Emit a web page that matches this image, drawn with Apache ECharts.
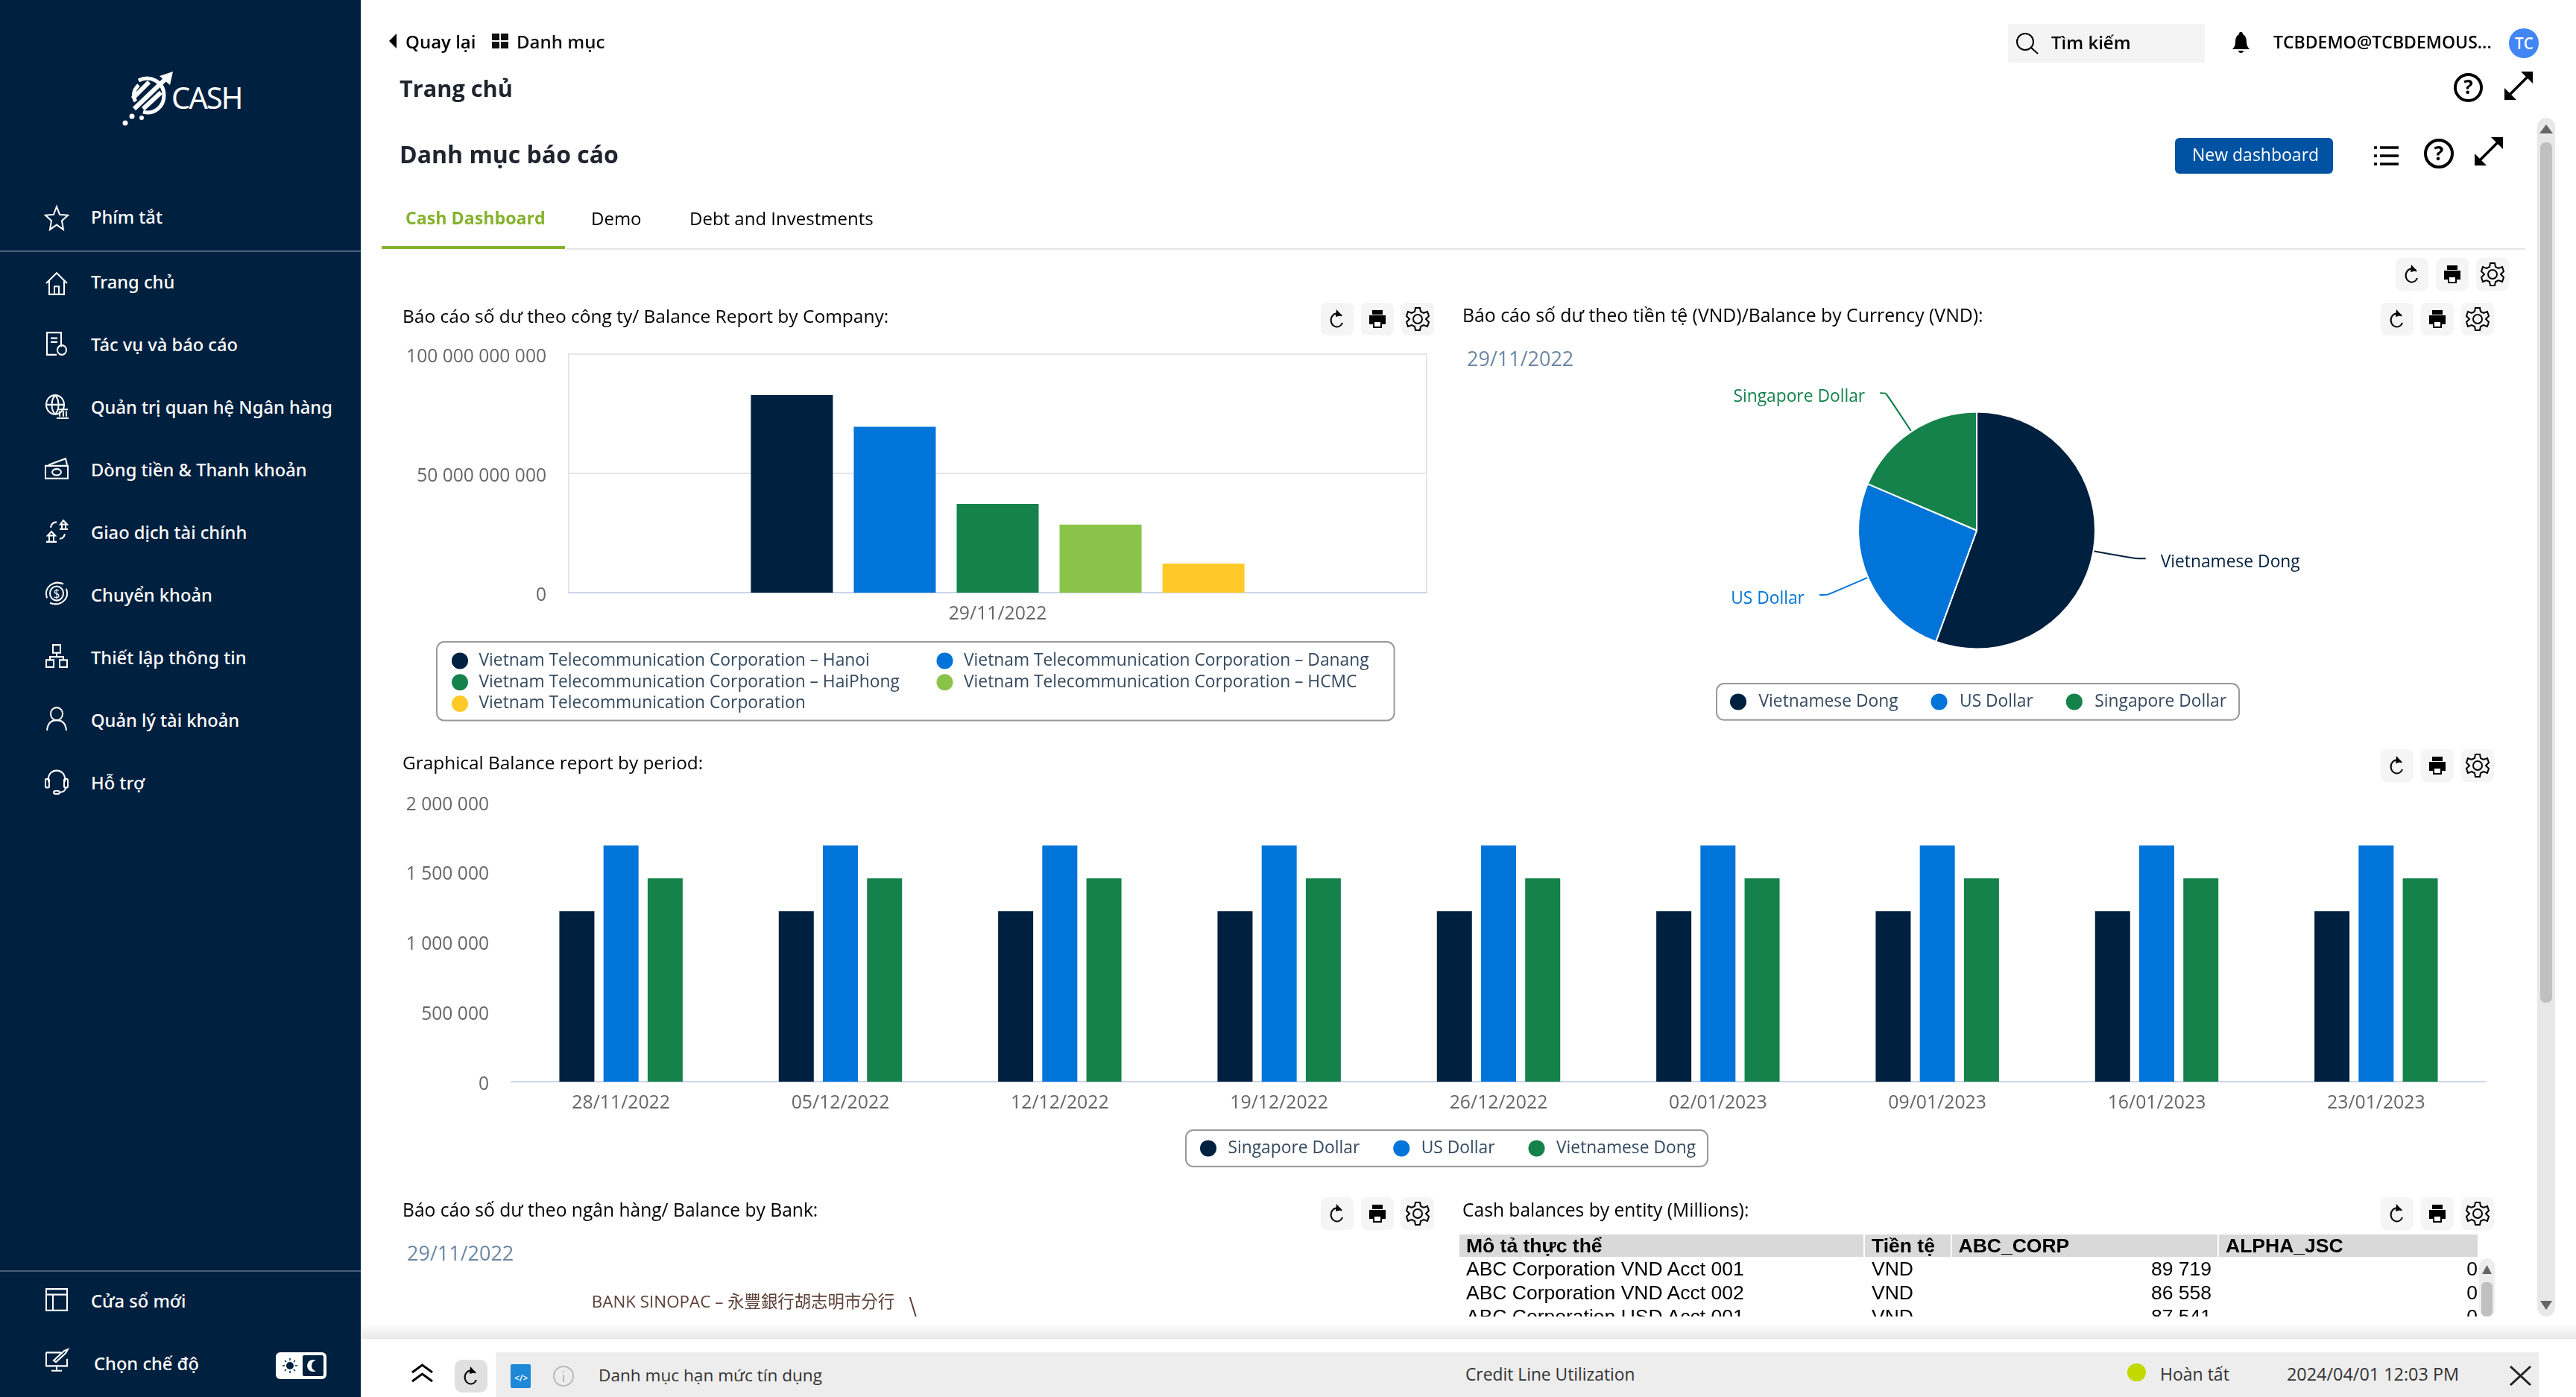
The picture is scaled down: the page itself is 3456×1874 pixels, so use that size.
<!DOCTYPE html>
<html>
<head>
<meta charset="utf-8">
<script src="https://cdn.jsdelivr.net/npm/echarts@6/dist/echarts.min.js"></script>
<style>
html,body{margin:0;padding:0;width:3456px;height:1874px;overflow:hidden;background:#fff;font-family:"Open Sans","Noto Sans",sans-serif;}
#main{position:absolute;left:0;top:0;width:3456px;height:1874px;}
#ui{position:absolute;left:0;top:0;width:3456px;height:1874px;pointer-events:none;}
.t{position:absolute;white-space:nowrap;transform:translateY(-50%);color:#000;}
.b{position:absolute;}
svg{position:absolute;overflow:visible;fill:none;}
#cover{position:absolute;left:484px;top:1766px;width:2972px;height:108px;background:linear-gradient(#fff 0,#fff 8px,#e9e9e9 30px,#fff 30px);}
table{position:absolute;left:1958px;top:1656px;width:1366px;table-layout:fixed;border-collapse:separate;border-spacing:0;font-family:"Liberation Sans";font-size:26.5px;line-height:32px;color:#000;}
td{padding:0;white-space:nowrap;overflow:hidden;}
</style>
</head>
<body>
<div id="main"></div>
<div id="ui"></div>
<script>
// chart data
var companyDates = ['29/11/2022'];
var companyNames = [
  'Vietnam Telecommunication Corporation – Hanoi',
  'Vietnam Telecommunication Corporation – Danang',
  'Vietnam Telecommunication Corporation – HaiPhong',
  'Vietnam Telecommunication Corporation – HCMC',
  'Vietnam Telecommunication Corporation'
];
var companyValues = [82800000000, 69500000000, 37200000000, 28500000000, 12200000000];

var currencyNames = ['Vietnamese Dong', 'US Dollar', 'Singapore Dollar'];
var currencyValues = [127700000000, 59300000000, 42700000000];

var periodDates = ['28/11/2022', '05/12/2022', '12/12/2022', '19/12/2022', '26/12/2022', '02/01/2023', '09/01/2023', '16/01/2023', '23/01/2023'];
var periodSgd = [1220000, 1220000, 1220000, 1220000, 1220000, 1220000, 1220000, 1220000, 1220000];
var periodUsd = [1690000, 1690000, 1690000, 1690000, 1690000, 1690000, 1690000, 1690000, 1690000];
var periodVnd = [1455000, 1455000, 1455000, 1455000, 1455000, 1455000, 1455000, 1455000, 1455000];

var bankNames = ['BANK SINOPAC – 永豐銀行胡志明市分行', ''];
var bankValues = [12, 88];

var tableHead = ['Mô tả thực thể', 'Tiền tệ', 'ABC_CORP', 'ALPHA_JSC'];
var tableNames = ['ABC Corporation VND Acct 001', 'ABC Corporation VND Acct 002', 'ABC Corporation USD Acct 001'];
var tableCcy = ['VND', 'VND', 'VND'];
var tableAbc = ['89 719', '86 558', '87 541'];
var tableAlpha = ['0', '0', '0'];

var NAVY = '#00203f', BLUE = '#0074d9', GREEN = '#15824b', LIME = '#8bc34a', YELLOW = '#ffca28';
var FONT = '"Open Sans","Noto Sans CJK TC",sans-serif';

function spaced(v) {
  return String(v).replace(/\B(?=(\d{3})+(?!\d))/g, ' ');
}
function yAxis(i, max, step) {
  return {
    type: 'value', gridIndex: i, min: 0, max: max, interval: step,
    axisLine: {show: false}, axisTick: {show: false},
    splitLine: {show: i == 0, lineStyle: {color: '#e6e6e6', width: 2}},
    axisLabel: {
      margin: 30,
      formatter: function (v) { return '{n|' + spaced(v) + '}'; },
      rich: {n: {color: '#666', fontSize: 24.6, fontFamily: FONT, padding: [7, 0, 0, 0]}}
    }
  };
}
function xAxis(i, data) {
  return {
    type: 'category', gridIndex: i, data: data,
    axisLine: {lineStyle: {color: '#ccd6eb', width: 2}}, axisTick: {show: false},
    axisLabel: {color: '#666', fontSize: 24.8, fontFamily: FONT, margin: 17, interval: 0}
  };
}
function legendBase(o) {
  var base = {
    icon: 'circle', itemHeight: 22, itemWidth: 43, selectedMode: false,
    borderColor: '#999', borderWidth: 2, borderRadius: 10,
    textStyle: {color: '#34495e', fontSize: 22.8, fontFamily: FONT, lineHeight: 22}
  };
  return Object.assign(base, o);
}

var chart = echarts.init(document.getElementById('main'), null, {renderer: 'canvas'});

var series = [];
companyNames.forEach(function (name, i) {
  series.push({
    name: name, type: 'bar', xAxisIndex: 0, yAxisIndex: 0, data: [companyValues[i]],
    barWidth: 110, barGap: '25.5%',
    itemStyle: {color: [NAVY, BLUE, GREEN, LIME, YELLOW][i]}
  });
});
[periodSgd, periodUsd, periodVnd].forEach(function (vals, i) {
  series.push({
    name: ['Singapore Dollar', 'US Dollar', 'Vietnamese Dong'][i], type: 'bar', xAxisIndex: 1, yAxisIndex: 1, data: vals,
    barWidth: 47, barGap: '26%',
    itemStyle: {color: [NAVY, BLUE, GREEN][i]}
  });
});

var pieLines = [[57, 14], [59, 11], [62, 8]];
series.push({
  type: 'pie', center: [2652, 711.5], radius: 159, startAngle: 90, avoidLabelOverlap: false,
  itemStyle: {borderColor: '#fff', borderWidth: 2},
  label: {distanceToLabelLine: 20, formatter: '{t|{b}}'},
  data: currencyNames.map(function (name, i) {
    var col = [NAVY, BLUE, GREEN][i];
    return {
      name: name, value: currencyValues[i], itemStyle: {color: col},
      label: {rich: {t: {color: col, fontSize: 22.8, fontFamily: FONT, padding: [11, 0, 0, 0]}}},
      labelLine: {length: pieLines[i][0], length2: pieLines[i][1], smooth: 0.2, lineStyle: {color: col, width: 2}}
    };
  })
});
series.push({
  type: 'pie', center: [1288, 1960], radius: 159, startAngle: 128.6, avoidLabelOverlap: false, silent: true,
  label: {
    distanceToLabelLine: 20, formatter: '{t|{b}}',
    rich: {t: {fontSize: 22.4, fontFamily: FONT, color: '#5d4037', padding: [13, 0, 0, 0]}}
  },
  data: bankNames.map(function (name, i) {
    return {
      name: name, value: bankValues[i],
      itemStyle: {color: ['#5d4037', NAVY][i]},
      label: {show: i == 0},
      labelLine: {show: i == 0, length: 70, length2: 1, lineStyle: {color: '#5d4037', width: 2}}
    };
  })
});

var option = {
  backgroundColor: '#fff',
  animation: false,
  grid: [
    {left: 763, top: 475, width: 1151, height: 320, show: true, borderColor: '#e6e6e6', borderWidth: 2},
    {left: 686, top: 1076, width: 2649, height: 375, show: false}
  ],
  xAxis: [xAxis(0, companyDates), xAxis(1, periodDates)],
  yAxis: [yAxis(0, 100000000000, 50000000000), yAxis(1, 2000000, 500000)],
  legend: [
    legendBase({
      orient: 'vertical', left: 586, top: 861, height: 104, itemGap: 6, itemWidth: 41,
      padding: [14, 34, 11, 20],
      data: [
        {name: companyNames[0], textStyle: {width: 608}},
        {name: companyNames[2], textStyle: {width: 608}},
        {name: companyNames[4], textStyle: {width: 608}},
        companyNames[1], companyNames[3]
      ]
    }),
    legendBase({
      left: 2303, top: 917, padding: [13, 17, 13, 18], itemGap: 44, itemWidth: 45,
      data: currencyNames.map(function (name, i) {
        return {name: name, itemStyle: {color: [NAVY, BLUE, GREEN][i]}};
      })
    }),
    legendBase({left: 1591, top: 1516, padding: [13, 16, 13, 19], itemGap: 45, data: ['Singapore Dollar', 'US Dollar', 'Vietnamese Dong']})
  ],
  series: series
};
chart.setOption(option);

// page chrome around the charts
var ui = document.getElementById('ui');
function box(x, y, w, h, bg, r) {
  var d = document.createElement('div');
  d.className = 'b';
  d.style.cssText = 'left:' + x + 'px;top:' + y + 'px;width:' + w + 'px;height:' + h + 'px;background:' + bg + ';border-radius:' + (r || 0) + 'px;';
  ui.appendChild(d);
  return d;
}
function txt(s, x, y, size, weight, color, extra) {
  var d = document.createElement('div');
  d.className = 't';
  d.textContent = s;
  d.style.cssText = 'left:' + x + 'px;top:' + y + 'px;font-size:' + size + 'px;font-weight:' + (weight || 400) + ';color:' + (color || '#000') + ';' + (extra || '');
  ui.appendChild(d);
  return d;
}
function icon(x, y, w, h, vb, inner) {
  var s = '<svg xmlns="http://www.w3.org/2000/svg" style="left:' + x + 'px;top:' + y + 'px" width="' + w + '" height="' + h + '" viewBox="' + vb + '" preserveAspectRatio="none">' + inner + '</svg>';
  ui.insertAdjacentHTML('beforeend', s);
}
var W = 'stroke="#fff" stroke-width="2"', K = 'stroke="#000" stroke-width="2"';

function tools(x1, x2, x3, y, w, h) {
  [x1, x2, x3].forEach(function (x) { box(x, y, w, h, '#f5f5f5', 8); });
  var cy = y + h / 2;
  icon(x1 + w / 2 - 10, cy - 14, 20, 28, '0 0 20 28', '<path d="M16 10 A8 9 0 1 0 17 19" ' + K + ' stroke-width="2.4"/><path d="M9 1 L16 9 L8 11Z" fill="#000"/>');
  icon(x2 + w / 2 - 12, cy - 13, 24, 26, '0 0 24 26', '<path d="M5 1H19V7H5ZM1 8H23V20H18V25H6V20H1Z" fill="#000"/><path d="M8 17H16V23H8Z" fill="#fff"/>');
  icon(x3 + w / 2 - 16, cy - 17, 32, 34, '0 0 32 34', '<circle cx="16" cy="17" r="6" ' + K + '/><path d="M13 2H19L20 7L24 9L29 7L31 13L27 17L31 21L29 27L24 25L20 27L19 32H13L12 27L8 25L3 27L1 21L5 17L1 13L3 7L8 9L12 7Z" ' + K + '/>');
}
function helpIcon(x, y, w, h) {
  icon(x, y, w, h, '0 0 40 40', '<circle cx="20" cy="20" r="18" stroke="#000" stroke-width="4"/><text x="20" y="29" text-anchor="middle" font-size="27" font-weight="700" font-family="Open Sans" fill="#000">?</text>');
}
function expandIcon(x, y, w, h) {
  icon(x, y, w, h, '0 0 38 38', '<path d="M7 31L31 7" stroke="#000" stroke-width="3.5"/><path d="M22 0H38V16ZM0 22V38H16Z" fill="#000"/>');
}

// sidebar
box(0, 0, 484, 1874, NAVY);
box(0, 336, 484, 2, '#4a5f78');
box(0, 1704, 484, 2, '#4a5f78');
var sideItems = [
  ['Phím tắt', 291], ['Trang chủ', 378], ['Tác vụ và báo cáo', 462], ['Quản trị quan hệ Ngân hàng', 546],
  ['Dòng tiền & Thanh khoản', 630], ['Giao dịch tài chính', 714], ['Chuyển khoản', 798], ['Thiết lập thông tin', 882],
  ['Quản lý tài khoản', 966], ['Hỗ trợ', 1050], ['Cửa sổ mới', 1745]
];
sideItems.forEach(function (it) { txt(it[0], 122, it[1], 23.7, 500, '#fff', 'font-family:Noto Sans;'); });
txt('Chọn chế độ', 126, 1829, 23.7, 500, '#fff', 'font-family:Noto Sans;');
var sideIcons = [
  [292, '<path d="M16 2L20 12L31 13L23 20L25 31L16 25L7 31L9 20L1 13L12 12Z" ' + W + '/>'],
  [380, '<path d="M2 16L16 3L30 16M6 13V30H26V13M13 30V20H19V30" ' + W + '/>'],
  [461, '<path d="M22 20V2H3V30H16M8 9H17M8 14H17" ' + W + '/><circle cx="23" cy="24" r="6" ' + W + '/>'],
  [545, '<circle cx="14" cy="14" r="12" ' + W + '/><path d="M2 14H26M14 2C8 8 8 20 14 26M14 2C20 8 20 20 14 26" ' + W + '/><path d="M16 31H32M18 20H31M20 22V29M25 22V29M29 22V29" ' + W + '/>'],
  [628, '<path d="M1 13H31V29H1Z" ' + W + '/><ellipse cx="16" cy="21" rx="6" ry="4" ' + W + '/><path d="M5 12L28 4L30 12" ' + W + '/>'],
  [712, '<path d="M2 30H16M4 22H14L9 17ZM6 22V29M12 22V29M20 14H31M21 8H30L25 3ZM23 8V13M28 8V13M8 12C9 6 13 5 16 5M20 26C24 26 26 24 27 20" ' + W + '/>'],
  [796, '<circle cx="16" cy="16" r="9" ' + W + '/><path d="M3 22C-2 8 12 -1 25 4M29 10C34 24 20 33 7 28" ' + W + '/><text x="16" y="22" text-anchor="middle" font-size="15" fill="#fff" font-family="Open Sans">$</text>'],
  [880, '<path d="M11 2H21V12H11ZM2 21H12V30H2ZM20 21H30V30H20ZM16 12V17M7 21V17H25V21" ' + W + '/>'],
  [964, '<circle cx="16" cy="10" r="8" ' + W + '/><path d="M3 31C4 20 10 18 16 18C22 18 28 20 29 31" ' + W + '/>'],
  [1048, '<path d="M5 17V13C5 -1 27 -1 27 13V17" ' + W + '/><rect x="1" y="13" width="5" height="11" rx="2" ' + W + '/><rect x="26" y="13" width="5" height="11" rx="2" ' + W + '/><path d="M28 24C28 28 24 30 19 30" ' + W + '/><ellipse cx="16" cy="30" rx="4" ry="2" ' + W + '/>'],
  [1744, '<path d="M2 2H30V29H2ZM2 9H30M11 9V29" ' + W + '/>'],
  [1826, '<path d="M2 5H22M2 5V22H30V13M16 22V27M9 28H23M12 15L26 3L31 1L28 6L15 17Z" ' + W + '/>']
];
sideIcons.forEach(function (it) { icon(60, it[0] - 17, 32, 34, '0 0 32 32', it[1]); });
box(370, 1814, 68, 36, '#fff', 6);
box(406, 1818, 28, 28, NAVY, 2);
icon(379, 1822, 20, 20, '0 0 20 20', '<circle cx="10" cy="10" r="5" fill="#00203f"/><path d="M10 0V3M10 17V20M0 10H3M17 10H20M3 3L5 5M15 15L17 17M3 17L5 15M15 5L17 3" stroke="#00203f" stroke-width="1.5"/>');
icon(414, 1824, 12, 16, '0 0 12 16', '<path d="M10 1A8 8 0 1 0 10 15A6 7 0 1 1 10 1Z" fill="#fff"/>');

// logo
icon(164, 96, 68, 74, '0 0 68 74', '<path d="M22 12C38 4 56 14 56 32C56 48 42 58 28 54" stroke="#fff" stroke-width="5"/><path d="M22 18C14 26 14 34 18 40" stroke="#fff" stroke-width="5"/><path d="M16 50L58 10M28 50L52 28M14 36L36 14" stroke="#fff" stroke-width="6"/><path d="M50 6L68 0L64 18Z" fill="#fff"/><circle cx="4" cy="69" r="3.5" fill="#fff"/><circle cx="13" cy="60" r="3.5" fill="#fff"/><circle cx="26" cy="62" r="3" fill="#fff"/>');
txt('CASH', 230, 130, 40, 400, '#fff', 'font-family:Noto Sans;letter-spacing:-2px;');

// header
icon(522, 45, 10, 20, '0 0 10 20', '<path d="M10 0V20L0 10Z" fill="#000"/>');
txt('Quay lại', 544, 55, 24, 600);
box(660, 45, 10, 9, '#111'); box(672, 45, 10, 9, '#111'); box(660, 56, 10, 9, '#111'); box(672, 56, 10, 9, '#111');
txt('Danh mục', 693, 55, 24, 600, '#111');
txt('Trang chủ', 536, 118, 30.7, 700, '#20242e');
txt('Danh mục báo cáo', 536, 206, 32, 700, '#20242e');
txt('Cash Dashboard', 544, 292, 23.2, 700, '#85b32d');
txt('Demo', 793, 292, 24);
txt('Debt and Investments', 925, 292, 24);
box(512, 330, 246, 4, '#85b32d');
box(760, 333, 2628, 2, '#e4e4e4');

box(2694, 32, 264, 52, '#f4f4f4');
icon(2705, 44, 30, 28, '0 0 30 28', '<ellipse cx="12" cy="12" rx="11" ry="11" ' + K + '/><path d="M20 20L29 28" ' + K + '/>');
txt('Tìm kiếm', 2752, 56, 24, 600);
icon(2995, 43, 23, 29, '0 0 23 29', '<path d="M11 0C14 0 14 2 14 3C18 5 19 9 19 14C19 18 21 21 23 23H0C2 21 4 18 4 14C4 9 5 5 9 3C9 2 9 0 11 0ZM8 25H15C15 29 8 29 8 25Z" fill="#000"/>');
txt('TCBDEMO@TCBDEMOUS...', 3050, 56, 23, 600);
box(3366, 38, 40, 40, '#4285f4', 20);
txt('TC', 3374, 58, 21, 600, '#fff');
helpIcon(3292, 98, 39, 39);
expandIcon(3360, 96, 38, 38);

box(2918, 185, 212, 48, '#0052a3', 6);
txt('New dashboard', 2941, 207, 23, 500, '#fff');
icon(3185, 195, 33, 28, '0 0 33 28', '<path d="M8 3H33M8 14H33M8 25H33" stroke="#000" stroke-width="3.5"/><path d="M0 3H4M0 14H4M0 25H4" stroke="#000" stroke-width="3.5"/>');
helpIcon(3252, 186, 40, 40);
expandIcon(3320, 184, 38, 38);

// panels
tools(3214, 3268, 3322, 346, 44, 44);
tools(1772, 1826, 1880, 406, 44, 44);
tools(3194, 3248, 3302, 406, 44, 44);
tools(3194, 3248, 3302, 1005, 44, 44);
txt('Báo cáo số dư theo công ty/ Balance Report by Company:', 540, 423, 24.5);
txt('Báo cáo số dư theo tiền tệ (VND)/Balance by Currency (VND):', 1962, 422, 24.8);
txt('29/11/2022', 1968, 480, 27, 400, '#6b87a3');
txt('Graphical Balance report by period:', 540, 1022, 24.4);

var rows = '<tr style="font-weight:700;height:30px;line-height:30px">';
var widths = [544, 116.5, 358.5, 347];
tableHead.forEach(function (h, i) {
  rows += '<td style="width:' + widths[i] + 'px;background:#d9d9d9;padding-left:9px;box-sizing:border-box;border-right:' + (i < 3 ? 2 : 0) + 'px solid #fff;">' + h + '</td>';
});
rows += '</tr>';
tableNames.forEach(function (n, i) {
  rows += '<tr style="height:32px"><td style="padding-left:9px">' + n + '</td><td style="padding-left:9px">' + tableCcy[i] + '</td><td style="text-align:right;padding-right:10px">' + tableAbc[i] + '</td><td style="text-align:right">' + tableAlpha[i] + '</td></tr>';
});
ui.insertAdjacentHTML('beforeend', '<table>' + rows + '</table>');

// white band + footer sit on top of what runs past the fold
var cover = document.createElement('div');
cover.id = 'cover';
ui.appendChild(cover);
box(484, 1796, 2972, 78, '#fff');
box(514, 1796, 2911, 78, '#fff', 8);
box(665, 1814, 2741, 60, '#ededed');
box(3326, 1688, 21, 78, '#ededed', 10);
box(3329, 1720, 15, 46, '#c0c0c0', 6);
icon(3330, 1697, 13, 12, '0 0 13 12', '<path d="M6.5 0L13 12H0Z" fill="#666"/>');

txt('Báo cáo số dư theo ngân hàng/ Balance by Bank:', 540, 1622, 24.6);
txt('Cash balances by entity (Millions):', 1962, 1622, 24.6);
txt('29/11/2022', 546, 1680, 27, 400, '#6b87a3');
tools(1772, 1826, 1880, 1606, 44, 44);
tools(3194, 3248, 3302, 1606, 44, 44);

// scrollbar
box(3404, 158, 24, 1608, '#e8e8e8', 12);
box(3408, 191, 16, 1154, '#c0c0c0', 7);
icon(3407, 167, 18, 12, '0 0 18 12', '<path d="M9 0L18 12H0Z" fill="#666"/>');
icon(3408, 1745, 16, 12, '0 0 16 12', '<path d="M0 0H16L8 12Z" fill="#666"/>');

// footer row
icon(552, 1830, 29, 24, '0 0 29 24', '<path d="M1 11L14.5 1L28 11M1 23L14.5 13L28 23" stroke="#000" stroke-width="3"/>');
box(610, 1824, 44, 44, '#e0e0e0', 10);
icon(622, 1832, 20, 28, '0 0 20 28', '<path d="M16 10 A8 9 0 1 0 17 19" ' + K + ' stroke-width="2.4"/><path d="M9 1 L16 9 L8 11Z" fill="#000"/>');
box(685, 1830, 27, 32, '#1e88d8', 2);
txt('</>', 690, 1848, 12, 600, '#fff');
icon(742, 1832, 28, 28, '0 0 28 28', '<circle cx="14" cy="14" r="13" stroke="#bbb" stroke-width="2"/><path d="M14 12V22M14 7V9" stroke="#bbb" stroke-width="2"/>');
txt('Danh mục hạn mức tín dụng', 803, 1844, 22.6, 400, '#333');
txt('Credit Line Utilization', 1966, 1843, 22.8, 400, '#333');
box(2854, 1829, 25, 24, '#c2d800', 12);
txt('Hoàn tất', 2898, 1843, 23, 400, '#333');
txt('2024/04/01 12:03 PM', 3068, 1843, 23.4, 400, '#333');
icon(3367, 1832, 29, 27, '0 0 29 27', '<path d="M1 1L28 26M28 1L1 26" stroke="#222" stroke-width="3"/>');
</script>
</body>
</html>
